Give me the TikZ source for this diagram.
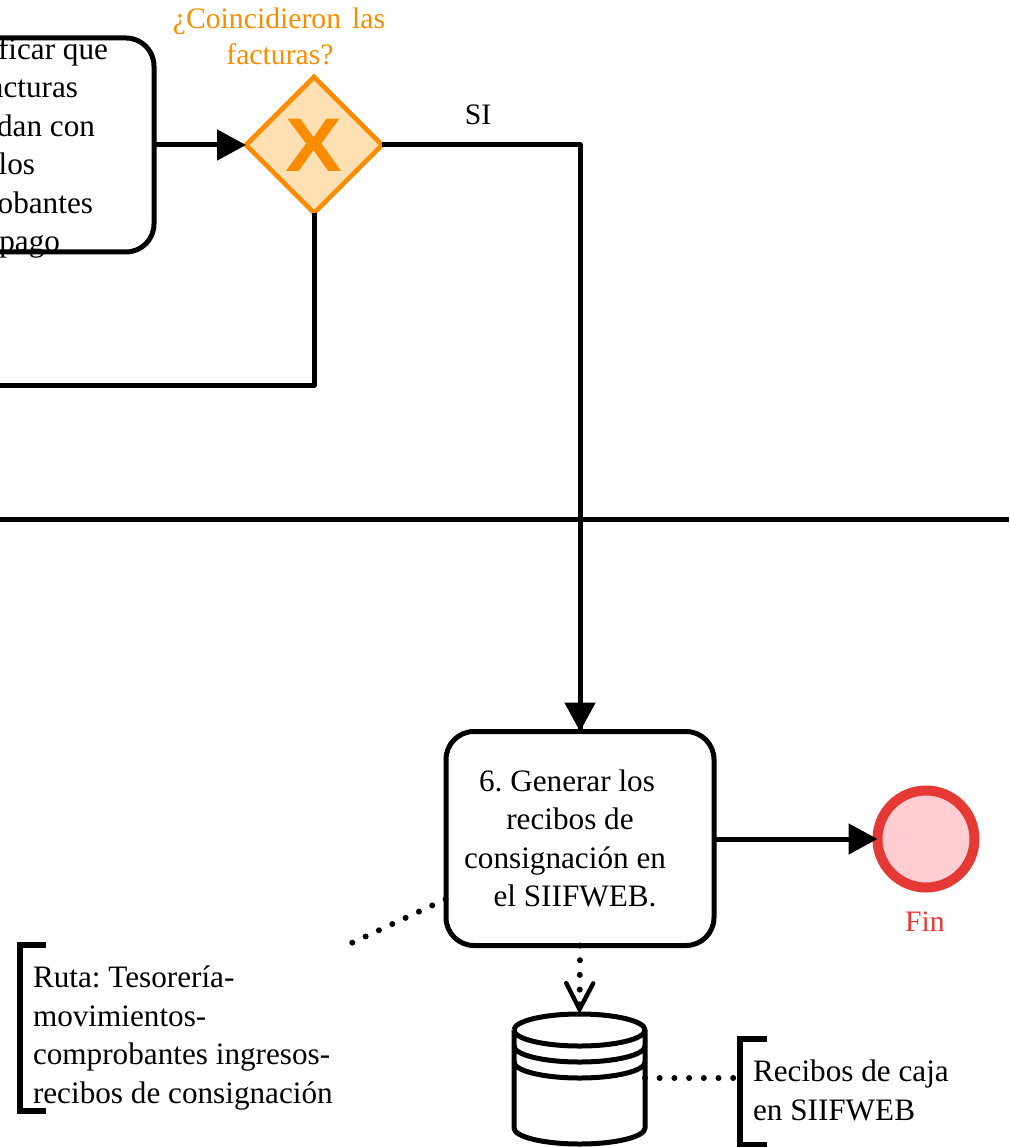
\documentclass[tikz,border=0pt]{standalone}
\usepackage{fontspec}
\setmainfont{Liberation Serif}
\newfontfamily\xfont{Liberation Sans}
\usetikzlibrary{arrows.meta,shapes.geometric}
\definecolor{gwline}{HTML}{FB8C00}
\definecolor{gwfill}{HTML}{FFE0B2}
\definecolor{endline}{HTML}{E53935}
\definecolor{endfill}{HTML}{FFCDD2}
\tikzset{
  x=1pt,y=-1pt,
  ln/.style={line width=5pt,line join=round},
  flow/.style={ln,-{Triangle[length=29pt,width=30pt]}},
  dots/.style={line width=6pt,line cap=round,dash pattern=on 0pt off 14.7pt},
  task/.style={draw,line width=5pt,rounded corners=28pt,minimum width=268pt,minimum height=214pt,inner sep=0pt,outer sep=0pt},
  txt/.style={font=\fontsize{31.2}{38.6}\selectfont,inner sep=0pt,outer sep=0pt,text=black},
  lbl/.style={font=\fontsize{29.7}{36}\selectfont,inner sep=0pt,outer sep=0pt},
  frag/.style={txt,anchor=base east},
  bracket/.style={line width=6pt,line join=miter},
  gw/.style={diamond,draw=gwline,fill=gwfill,line width=4.6pt,minimum width=136pt,minimum height=136pt,aspect=1,inner sep=0pt,outer sep=0pt}
}
\begin{document}
\frenchspacing
\begin{tikzpicture}
\useasboundingbox (0,0) rectangle (1009,1147);
\clip (0,0) rectangle (1009,1147);
% lane line
\coordinate (laneL) at (0,519);
\coordinate (laneR) at (1009,519);
\draw[ln] (laneL) -- (laneR);
% task 5 (runs off the left edge)
\node[task] (taskA) at (20,145) {};
\node[frag] (a1) at (108,60) {ficar que};
\node[frag] (a2) at (78,98) {acturas};
\node[frag] (a3) at (95,137) {dan con};
\node[frag] (a4) at (35,175) {los};
\node[frag] (a5) at (93,214) {obantes};
\node[frag] (a6) at (60,252) {pago};
% gateway
\node[gw] (gate) at (314,145) {};
\node[font=\xfont\bfseries\fontsize{76}{76}\selectfont,text=gwline,inner sep=0pt] (gatex) at (314,145) {\scalebox{1.12}[1]{X}};
\node[lbl,text=gwline,align=center,anchor=north] (gatelabel) at (279,8) {¿Coincidieron\hspace{0.12em} las\\\hspace*{2pt}facturas?};
\node[lbl] (si) at (478,115) {SI};
% task 6
\node[task] (taskB) at (580,838.5) {};
\node[txt,align=center] (taskBtext) at (565,838.5) {\hspace*{4pt}6. Generar los\\\hspace*{10pt}recibos de\\consignación en\\\hspace*{20pt}el SIIFWEB.};
% end event
\node[circle,draw=endline,fill=endfill,line width=10pt,minimum size=97pt,inner sep=0pt,outer sep=0pt] (endev) at (926,839) {};
\node[lbl,text=endline] (fin) at (925,922) {Fin};
% flows
\coordinate (back) at (0,385);
\coordinate (turn) at (580,145);
\coordinate (backturn) at (314,385);
\draw[flow] (taskA.east |- gate.west) -- (gate.west);
\draw[ln] (gate.east) -- (turn) -- (taskB.north);
\draw[flow] (turn) -- (taskB.north);
\draw[ln] (gate.south) -- (backturn) -- (back);
\draw[flow] (taskB.east |- endev.west) -- (endev.west);
% database
\coordinate (dbL) at (514,1030);
\coordinate (dbR) at (645,1030);
\coordinate (dbBL) at (514,1128);
\coordinate (dbBR) at (645,1128);
\draw[ln,fill=white] (dbL) -- (dbBL) arc[start angle=180,end angle=360,x radius=65.5pt,y radius=16pt] -- (dbR) arc[start angle=0,end angle=180,x radius=65.5pt,y radius=16pt];
\draw[ln] (dbL) arc[start angle=180,end angle=360,x radius=65.5pt,y radius=16pt];
\draw[ln] (514,1046) arc[start angle=180,end angle=360,x radius=65.5pt,y radius=16pt];
\draw[ln] (514,1062) arc[start angle=180,end angle=360,x radius=65.5pt,y radius=16pt];
\coordinate (dbtop) at (579.5,1014);
\coordinate (dbside) at (645,1078);
% data association
\draw[dots,-{Straight Barb[length=26pt,width=27pt,line width=4.4pt,line cap=round]}] (taskB.south) -- (dbtop);
% annotations
\coordinate (brA1) at (46,945);
\coordinate (brA2) at (20,945);
\coordinate (brA3) at (20,1111);
\coordinate (brA4) at (46,1111);
\draw[bracket] (brA1) -- (brA2) -- (brA3) -- (brA4);
\node[txt,align=left,anchor=north west] (noteA) at (33,966) {Ruta: Tesorería-\\movimientos-\\comprobantes ingresos-\\recibos de consignación};
\coordinate (brB1) at (767,1039);
\coordinate (brB2) at (740,1039);
\coordinate (brB3) at (740,1145);
\coordinate (brB4) at (767,1145);
\draw[bracket] (brB1) -- (brB2) -- (brB3) -- (brB4);
\node[txt,align=left,anchor=north west] (noteB) at (753,1060) {Recibos de caja\\en SIIFWEB};
\coordinate (noteAend) at (352.3,942.7);
\draw[dots] (noteAend) -- (taskB.west |- 0,899);
\draw[dots] (dbside) -- (brB2 |- dbside);
\end{tikzpicture}
\end{document}
